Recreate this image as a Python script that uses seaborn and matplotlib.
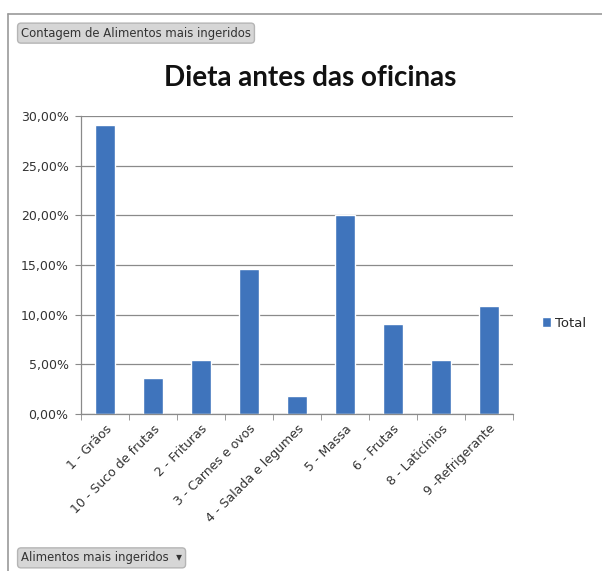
import matplotlib
matplotlib.use("Agg")
import matplotlib.pyplot as plt
import seaborn as sns
import pandas as pd
from matplotlib.lines import Line2D
from matplotlib.ticker import FuncFormatter, FixedLocator

# Categories and share of each (counts out of 55 answers)
categorias = ["1 - Grãos", "10 - Suco de frutas", "2 - Frituras", "3 - Carnes e ovos",
              "4 - Salada e legumes", "5 - Massa", "6 - Frutas", "8 - Laticínios",
              "9 -Refrigerante"]
contagens = [16, 2, 3, 8, 1, 11, 5, 3, 6]
total_respostas = 55
percentuais = [c / total_respostas for c in contagens]

df = pd.DataFrame({"Alimento": categorias, "Total": percentuais})

sns.set_style("white")
plt.rcParams["font.family"] = ["DejaVu Sans"]

fig = plt.figure(figsize=(6.02, 5.71), dpi=100)
ax = fig.add_axes([0.1346, 0.275, 0.7174, 0.522])

bar_color = "#3F74BC"
sns.barplot(data=df, x="Alimento", y="Total", color=bar_color, width=0.42,
            label="Total", ax=ax, saturation=1)

ax.set_ylim(0, 0.30)
ax.set_xlim(-0.5, len(categorias) - 0.5)
ax.set_yticks([0, 0.05, 0.10, 0.15, 0.20, 0.25, 0.30])
ax.yaxis.set_major_formatter(FuncFormatter(lambda v, p: f"{v*100:.2f}%".replace(".", ",")))
ax.yaxis.grid(True, color="#8a8a8a", linewidth=0.9)
ax.set_axisbelow(True)
ax.set_xlabel("")
ax.set_ylabel("")

for s in ["top", "right"]:
    ax.spines[s].set_visible(False)
for s in ["left", "bottom"]:
    ax.spines[s].set_color("#8a8a8a")
    ax.spines[s].set_linewidth(0.9)

ax.tick_params(axis="y", left=True, length=4, color="#8a8a8a", labelsize=9, labelcolor="#333333", pad=5)
ax.set_xticks(range(len(categorias)))
ax.set_xticklabels(categorias, rotation=45, ha="right", rotation_mode="anchor",
                   fontsize=9, color="#333333")
ax.tick_params(axis="x", which="major", length=0, pad=6)
ax.xaxis.set_minor_locator(FixedLocator([i + 0.5 for i in range(-1, len(categorias))]))
ax.tick_params(axis="x", which="minor", bottom=True, length=4, color="#8a8a8a")

leg = ax.legend(loc="center left", bbox_to_anchor=(1.04, 0.305), frameon=False,
                fontsize=9.5, handlelength=0.7, handleheight=0.7, handletextpad=0.3)

fig.text(0.515, 0.863, "Dieta antes das oficinas", ha="center", va="center",
         fontsize=20, fontweight="bold", family=["Lato", "DejaVu Sans"], color="#111111")

# chart frame
fig.add_artist(Line2D([0.0133, 0.0133], [0.0, 0.975], color="#9a9a9a", linewidth=1.2))
fig.add_artist(Line2D([0.0133, 1.0], [0.975, 0.975], color="#9a9a9a", linewidth=1.2))

# pivot field buttons
btn = dict(boxstyle="round,pad=0.3,rounding_size=0.3", facecolor="#d6d6d6", edgecolor="#b5b5b5")
fig.text(0.035, 0.942, "Contagem de Alimentos mais ingeridos", ha="left", va="center",
         fontsize=8.4, color="#333333", bbox=btn)
fig.text(0.035, 0.023, "Alimentos mais ingeridos  \u25be", ha="left", va="center",
         fontsize=8.4, color="#333333", bbox=btn)

fig.savefig("out.png", dpi=100, facecolor="white")
